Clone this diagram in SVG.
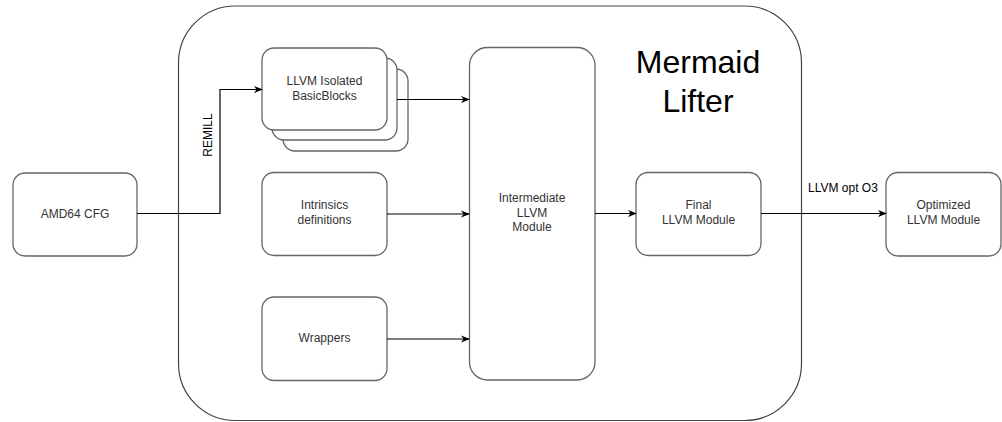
<svg xmlns="http://www.w3.org/2000/svg" width="1002" height="422" viewBox="0 0 1002 422">
<defs>
<style>
.box{fill:#fff;stroke:#666;stroke-width:1.3}
.cont{fill:#fff;stroke:#444;stroke-width:1.2}
.t{font-family:"Liberation Sans",Arial,sans-serif;font-size:12px;fill:#333;text-anchor:middle}
.lbl{font-family:"Liberation Sans",Arial,sans-serif;font-size:12px;fill:#000}
.title{font-family:"Liberation Sans",Arial,sans-serif;font-size:32px;fill:#000;text-anchor:middle}
.edge{fill:none;stroke:#000;stroke-width:1.2}
</style>
<marker id="arr" viewBox="0 0 10 10" refX="9" refY="5" markerWidth="9" markerHeight="9" markerUnits="userSpaceOnUse" orient="auto">
<path d="M0,1 L10,5 L0,9 L3,5 Z" fill="#000"/>
</marker>
</defs>
<rect width="1002" height="422" fill="#fff"/>
<g id="container">
<rect class="cont" x="178.5" y="6" width="623" height="414.5" rx="57" ry="57"/>
<text class="title" x="698" y="73">Mermaid</text>
<text class="title" x="698" y="112">Lifter</text>
</g>
<g id="amd64">
<rect class="box" x="13" y="173" width="124" height="83" rx="12"/>
<text class="t" x="75" y="218">AMD64 CFG</text>
</g>
<g id="isolated">
<rect class="box" x="283" y="69" width="125" height="82" rx="12"/>
<rect class="box" x="272" y="58" width="125" height="82" rx="12"/>
<rect class="box" x="262" y="48" width="125" height="82" rx="12"/>
<text class="t" x="324.5" y="85">LLVM Isolated</text>
<text class="t" x="324.5" y="100">BasicBlocks</text>
</g>
<g id="intrinsics">
<rect class="box" x="262" y="172.5" width="125" height="83" rx="12"/>
<text class="t" x="324.5" y="209">Intrinsics</text>
<text class="t" x="324.5" y="224">definitions</text>
</g>
<g id="wrappers">
<rect class="box" x="262" y="297" width="125" height="83.5" rx="12"/>
<text class="t" x="324.5" y="342">Wrappers</text>
</g>
<g id="intermediate">
<rect class="box" x="469.5" y="47.5" width="125.5" height="332.5" rx="18"/>
<text class="t" x="532" y="202">Intermediate</text>
<text class="t" x="532" y="217">LLVM</text>
<text class="t" x="532" y="231">Module</text>
</g>
<g id="final">
<rect class="box" x="636" y="172.5" width="125" height="83" rx="12"/>
<text class="t" x="698.5" y="209">Final</text>
<text class="t" x="698.5" y="224">LLVM Module</text>
</g>
<g id="optimized">
<rect class="box" x="886" y="172.5" width="115" height="83.5" rx="12"/>
<text class="t" x="943.5" y="209">Optimized</text>
<text class="t" x="943.5" y="224">LLVM Module</text>
</g>
<g id="connectors">
<path class="edge" d="M137,213.5 H220 V89.5 H262" marker-end="url(#arr)"/>
<text class="lbl" transform="translate(212,135) rotate(-90)" text-anchor="middle">REMILL</text>
<path class="edge" d="M397,99.5 H469" marker-end="url(#arr)"/>
<path class="edge" d="M387,214 H469" marker-end="url(#arr)"/>
<path class="edge" d="M387,339 H469" marker-end="url(#arr)"/>
<path class="edge" d="M595,213.5 H636" marker-end="url(#arr)"/>
<path class="edge" d="M761,213.5 H886" marker-end="url(#arr)"/>
<text class="lbl" x="808" y="192">LLVM opt O3</text>
</g>
</svg>
